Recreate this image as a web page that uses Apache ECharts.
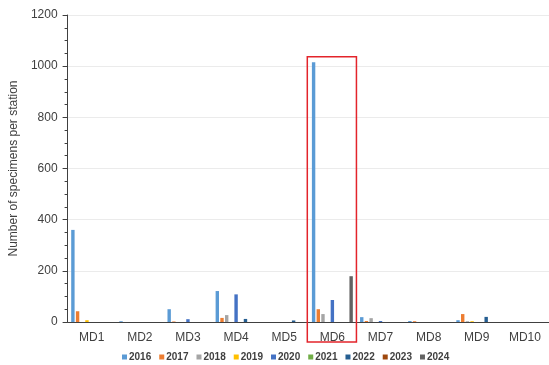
<!DOCTYPE html>
<html><head><meta charset="utf-8">
<script src="https://cdn.jsdelivr.net/npm/echarts@6/dist/echarts.min.js"></script>
<style>html,body{margin:0;padding:0;background:#fff}#c{width:549px;height:365px}</style>
</head><body><div id="c"></div>
<script>
const categories = ['MD1','MD2','MD3','MD4','MD5','MD6','MD7','MD8','MD9','MD10'];
const years = ['2016','2017','2018','2019','2020','2021','2022','2023','2024'];
const y2016 = [360, 3, 50, 121, 0, 1015, 19, 4, 7, 0];
const y2017 = [42, 0, 2, 16, 0, 50, 4, 3, 31, 0];
const y2018 = [0, 0, 0, 27, 0, 31, 15, 0, 3, 0];
const y2019 = [7, 0, 0, 0, 0, 0, 0, 0, 3, 0];
const y2020 = [0, 0, 11, 108, 0, 86, 4, 0, 0, 0];
const y2021 = [0, 0, 0, 0, 0, 0, 0, 0, 0, 0];
const y2022 = [0, 0, 0, 12, 6, 0, 0, 0, 20, 0];
const y2023 = [0, 0, 0, 0, 0, 0, 0, 0, 0, 0];
const y2024 = [0, 0, 0, 0, 0, 179, 0, 0, 0, 0];
const yTicks = [0, 200, 400, 600, 800, 1000, 1200];
const highlightCategory = 'MD6';

const seriesData = [y2016, y2017, y2018, y2019, y2020, y2021, y2022, y2023, y2024];
const colors = ['#5B9BD5','#ED7D31','#A5A5A5','#FFC000','#4472C4','#70AD47','#255E91','#9E480E','#636363'];
const font = 'Liberation Sans, Arial, sans-serif';

const chart = echarts.init(document.getElementById('c'), null, {renderer: 'canvas'});
const option = {
  animation: false,
  color: colors,
  grid: {left: 62, right: -6, top: 15, bottom: 43, containLabel: false},
  legend: {
    left: 117, top: 347, itemWidth: 5, itemHeight: 5, itemGap: 8, icon: 'rect',
    textStyle: {fontFamily: font, fontSize: 10, fontWeight: 'bold', color: '#404040', padding: [0,0,0,-3]},
    data: years
  },
  xAxis: {
    type: 'category', data: categories,
    axisLine: {lineStyle: {color: '#404040', width: 1}},
    axisTick: {show: false},
    axisLabel: {fontFamily: font, fontSize: 12, color: '#404040', margin: 10}
  },
  yAxis: {
    type: 'value', min: yTicks[0], max: yTicks[yTicks.length-1], interval: 200,
    name: 'Number of specimens per station', nameLocation: 'middle', nameGap: 40,
    nameTextStyle: {fontFamily: font, fontSize: 12, color: '#404040'},
    axisLine: {show: true, lineStyle: {color: '#404040'}},
    axisTick: {show: true, inside: false, length: 5, lineStyle: {color: '#404040'}},
    minorTick: {show: true, splitNumber: 4, length: 3, lineStyle: {color: '#404040'}},
    axisLabel: {fontFamily: font, fontSize: 12, color: '#404040', margin: 10, formatter: v => String(v)},
    splitLine: {lineStyle: {color: '#EBEBEB'}}
  },
  series: years.map((y, i) => ({
    name: y, type: 'bar', data: seriesData[i], barWidth: 3.4, barGap: '38%'
  }))
};
chart.setOption(option);

// highlight box around MD6, derived from the axis scales
const idx = categories.indexOf(highlightCategory);
const cx = chart.convertToPixel({xAxisIndex: 0}, highlightCategory);
const band = chart.convertToPixel({xAxisIndex: 0}, categories[idx + 1]) - cx;
const yTop = chart.convertToPixel({yAxisIndex: 0}, 1037);
const yBase = chart.convertToPixel({yAxisIndex: 0}, 0);
chart.setOption({
  graphic: [{
    type: 'rect', z: 100,
    shape: {x: cx - band / 2 - 1, y: yTop, width: band + 1, height: yBase - yTop + 20},
    style: {fill: 'none', stroke: '#E3242B', lineWidth: 1.5}
  }]
});
</script></body></html>
